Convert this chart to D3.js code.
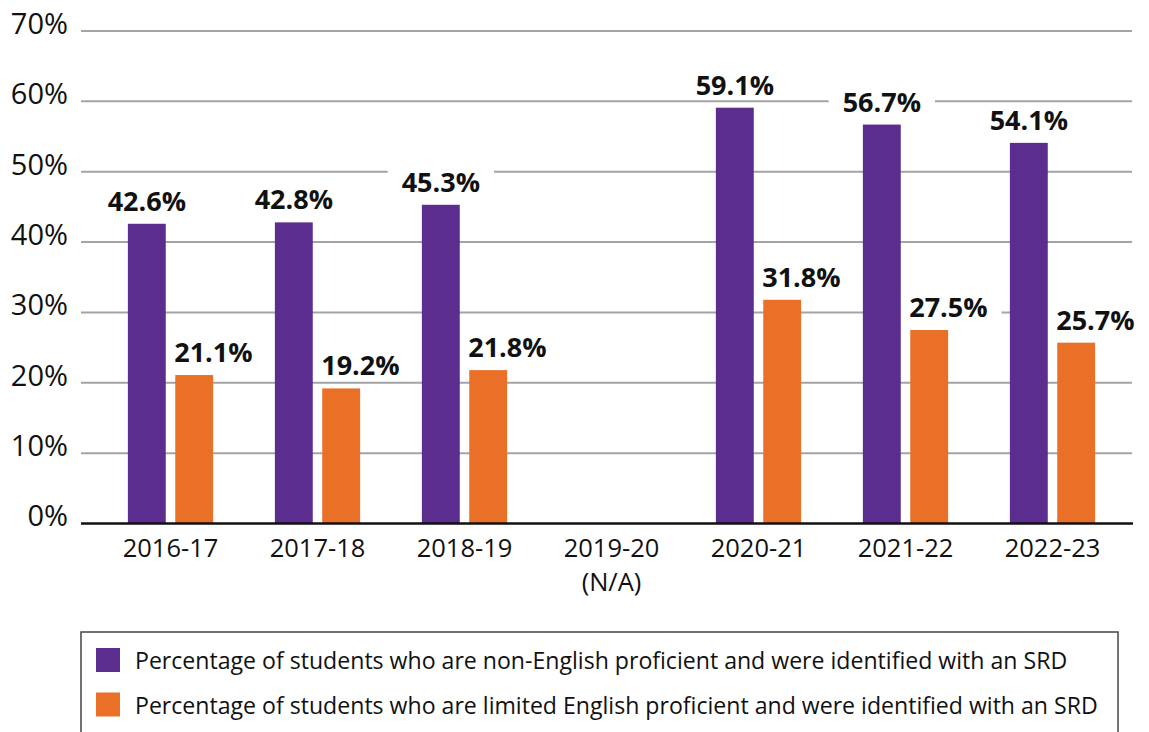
<!DOCTYPE html>
<html>
<head>
<meta charset="utf-8">
<script src="https://cdn.jsdelivr.net/npm/d3@7"></script>
<style>
  html, body { margin: 0; padding: 0; background: #fff; }
  svg { display: block; font-family: "Open Sans", Lato, sans-serif; }
</style>
</head>
<body>
<svg id="chart" width="1149" height="732"></svg>
<script>
"use strict";

// chart data
var categories = ["2016-17", "2017-18", "2018-19", "2019-20", "2020-21", "2021-22", "2022-23"];
var categoryNotes = ["", "", "", "(N/A)", "", "", ""];
var nonEnglish = [42.6, 42.8, 45.3, null, 59.1, 56.7, 54.1];
var limitedEnglish = [21.1, 19.2, 21.8, null, 31.8, 27.5, 25.7];
var yTicks = [0, 10, 20, 30, 40, 50, 60, 70];
var seriesNames = [
  "Percentage of students who are non-English proficient and were identified with an SRD",
  "Percentage of students who are limited English proficient and were identified with an SRD"
];
var seriesKeys = ["non", "lim"];
var colours = ["#5b2d8e", "#ea7027"];

var svg = d3.select("#chart");

var plot = { left: 81, right: 1132, top: 31, bottom: 523.5 };
var labelPad = 14; // white box round the value labels

var x = d3.scaleBand()
  .domain(categories)
  .range([97, 1126])
  .paddingInner(0.42)
  .paddingOuter(0.21);

var xSub = d3.scaleBand()
  .domain(seriesKeys)
  .range([0, x.bandwidth()])
  .paddingInner(0.2);

var y = d3.scaleLinear()
  .domain([0, 70])
  .range([plot.bottom, plot.top]);

// rows of data, one per bar
var rows = [];
categories.forEach(function(c, i) {
  [nonEnglish, limitedEnglish].forEach(function(arr, s) {
    if (arr[i] != null)
      rows.push({ cat: c, key: seriesKeys[s], s: s, v: arr[i] });
  });
});

// gridlines
svg.append("g")
  .selectAll("line")
  .data(yTicks.slice(1))
  .enter().append("line")
    .attr("x1", plot.left)
    .attr("x2", plot.right)
    .attr("y1", function(d) { return y(d); })
    .attr("y2", function(d) { return y(d); })
    .style("stroke", "#a3a3a8")
    .style("stroke-width", 2);

// y tick labels
svg.append("g")
  .selectAll("text")
  .data(yTicks)
  .enter().append("text")
    .attr("x", 68)
    .attr("y", function(d) { return y(d); })
    .attr("dy", "0.1em")
    .attr("text-anchor", "end")
    .style("font-size", "29px")
    .style("fill", "#111")
    .text(function(d) { return d + "%"; });

// value labels (background boxes first so the bars stay on top)
var labelSize = 27;
var labelG = svg.append("g");
var barG = svg.append("g");
var textG = svg.append("g");

var labels = textG.selectAll("text")
  .data(rows)
  .enter().append("text")
    .attr("x", function(d) {
      var bx = x(d.cat) + xSub(d.key);
      return d.s === 0 ? bx + xSub.bandwidth() / 2 : bx - 1;
    })
    .attr("y", function(d) { return y(d.v) - 13; })
    .attr("text-anchor", function(d) { return d.s === 0 ? "middle" : "start"; })
    .style("font-size", labelSize + "px")
    .style("font-weight", "bold")
    .style("fill", "#111")
    .text(function(d) { return d.v.toFixed(1) + "%"; });

labels.each(function(d) {
  var w = this.getComputedTextLength();
  var tx = +d3.select(this).attr("x");
  var left = d.s === 0 ? tx - w / 2 : tx;
  var base = +d3.select(this).attr("y");
  labelG.append("rect")
    .attr("x", left - labelPad)
    .attr("y", base - labelSize * 0.72 - 3)
    .attr("width", w + 2 * labelPad)
    .attr("height", labelSize * 0.72 + 8)
    .style("fill", "#fff");
});

// bars
barG.selectAll("rect")
  .data(rows)
  .enter().append("rect")
    .attr("x", function(d) { return x(d.cat) + xSub(d.key); })
    .attr("y", function(d) { return y(d.v); })
    .attr("width", xSub.bandwidth())
    .attr("height", function(d) { return y(0) - y(d.v); })
    .style("fill", function(d) { return colours[d.s]; });

// baseline
svg.append("line")
  .attr("x1", plot.left)
  .attr("x2", plot.right + 1)
  .attr("y1", y(0))
  .attr("y2", y(0))
  .style("stroke", "#111")
  .style("stroke-width", 2.5);

// category labels
var catG = svg.append("g");
catG.selectAll("text.cat")
  .data(categories)
  .enter().append("text")
    .attr("class", "cat")
    .attr("x", function(d) { return x(d) + x.bandwidth() / 2; })
    .attr("y", 557)
    .attr("text-anchor", "middle")
    .style("font-size", "25.5px")
    .style("fill", "#111")
    .text(function(d) { return d; });
catG.selectAll("text.note")
  .data(categories.filter(function(d, i) { return categoryNotes[i]; }))
  .enter().append("text")
    .attr("class", "note")
    .attr("x", function(d) { return x(d) + x.bandwidth() / 2; })
    .attr("y", 591)
    .attr("text-anchor", "middle")
    .style("font-size", "25.5px")
    .style("fill", "#111")
    .text(function(d) { return categoryNotes[categories.indexOf(d)]; });

// legend
var legend = svg.append("g");
legend.append("rect")
  .attr("x", 81)
  .attr("y", 632)
  .attr("width", 1037)
  .attr("height", 120)
  .style("fill", "none")
  .style("stroke", "#444")
  .style("stroke-width", 1.5);

var items = legend.selectAll("g.item")
  .data(seriesNames)
  .enter().append("g")
    .attr("class", "item")
    .attr("transform", function(d, i) { return "translate(96," + (648 + i * 44.5) + ")"; });
items.append("rect")
  .attr("width", 24)
  .attr("height", 24)
  .style("fill", function(d, i) { return colours[i]; });
items.append("text")
  .attr("x", 39)
  .attr("y", 21)
  .style("font-size", "23.1px")
  .style("fill", "#111")
  .text(function(d) { return d; });
</script>
</body>
</html>
